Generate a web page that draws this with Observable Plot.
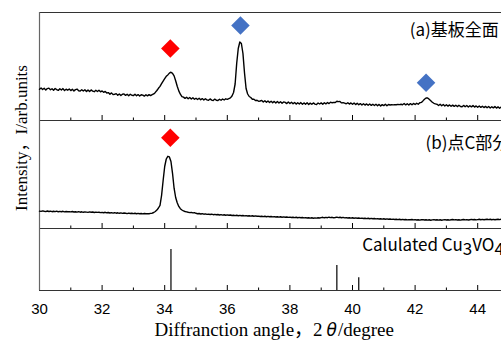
<!DOCTYPE html>
<html><head><meta charset="utf-8">
<script src="https://cdn.jsdelivr.net/npm/d3@7"></script>
<script src="https://cdn.jsdelivr.net/npm/@observablehq/plot@0.6"></script>
<style>
html,body{margin:0;padding:0;background:#fff;overflow:hidden}
#chart{position:relative;width:501px;height:343px;overflow:hidden;background:#fff}
#chart svg{position:absolute;left:0}
#ylab{position:absolute;left:21px;top:138px;transform:translate(-50%,-50%) rotate(-90deg);font-family:"Liberation Serif","Noto Sans CJK JP",serif;font-size:17px;white-space:nowrap;color:#000;line-height:1}
</style></head><body><div id="chart"><div id="ylab">Intensity，I/arb.units</div></div>
<script>
// 2θ sampling of the measured patterns
const angleStart = 30, angleStep = 0.05;
// (a) whole substrate, intensity (arb.)
const intensityA = [
31.2,32.6,31.0,32.2,30.4,31.9,32.4,30.7,31.8,30.2,32.0,30.9,30.1,31.7,30.5,31.9,29.9,31.3,30.3,31.5,
29.9,31.2,29.6,30.9,31.4,29.8,29.4,30.8,29.5,30.7,29.1,30.4,29.0,30.6,29.3,28.8,30.2,29.0,30.3,28.7,
29.6,28.2,29.1,27.5,27.9,26.3,27.6,25.9,26.2,26.9,25.2,26.6,25.0,26.3,26.6,25.1,26.2,24.8,26.3,25.2,
24.9,26.2,24.7,25.9,24.5,25.8,25.4,24.4,25.7,24.6,25.9,24.9,25.8,26.6,28.1,30.0,32.2,34.1,36.8,39.4,
41.8,44.2,45.6,47.4,48.3,47.1,44.6,39.8,34.3,29.6,26.3,23.9,23.4,22.1,23.3,21.8,23.0,21.5,22.7,21.2,
22.3,21.0,22.2,20.7,21.9,20.5,21.8,20.6,20.2,21.6,20.4,20.0,21.4,20.3,19.9,21.3,20.2,21.5,20.5,21.7,
21.2,21.9,22.6,24.5,28.0,36.5,57.0,72.0,78.5,77.0,67.0,47.5,32.0,26.5,24.0,23.0,21.3,21.3,19.9,20.3,
19.2,19.5,20.1,18.5,19.7,18.2,19.6,18.0,19.3,17.8,19.1,17.6,19.0,17.5,18.8,17.2,18.6,18.1,16.9,18.4,
17.0,18.3,16.7,18.0,16.4,17.7,16.5,17.9,16.2,17.6,16.3,17.7,16.1,17.4,16.2,17.6,16.4,16.0,17.5,16.5,
17.6,16.3,17.8,16.6,18.0,16.9,18.3,17.7,18.1,18.0,19.3,18.9,19.0,17.6,17.9,17.4,16.7,17.8,16.4,17.6,
16.2,17.4,15.9,17.2,15.7,16.9,15.5,16.8,15.4,16.6,15.2,16.5,15.1,16.3,15.0,16.2,14.8,16.1,14.6,15.9,
14.9,16.2,14.7,16.0,15.5,15.8,15.6,15.9,15.7,16.1,15.9,16.2,15.8,17.0,15.6,16.8,15.5,16.9,15.7,17.1,
16.0,17.3,16.2,17.7,18.1,19.6,21.3,22.5,22.6,21.2,19.8,18.3,17.2,16.6,16.2,15.0,16.3,14.8,16.0,14.5,
15.7,14.4,15.6,14.2,15.4,14.1,15.3,13.9,15.2,14.0,13.7,15.1,13.8,15.0,13.5,14.8,13.6,14.9,13.4,14.6,
13.2,14.5,13.1,14.3,12.9,14.1,12.8,14.0,12.5,13.8,12.6,13.9,12.4,13.6,12.3,13.5,12.2,13.3,12.1,13.2,
12.6];
// (b) point C, intensity (arb.)
const intensityB = [
17.4,17.1,17.6,17.2,16.9,17.5,17.0,17.3,16.8,17.2,16.9,17.4,16.7,17.1,16.8,17.2,16.6,17.0,16.7,16.9,
16.6,17.0,16.5,16.8,16.4,16.9,16.3,16.7,16.2,16.6,16.4,16.1,16.6,16.2,16.5,16.0,16.4,16.1,16.3,15.9,
16.1,15.8,16.2,15.7,16.0,15.5,15.9,15.4,15.8,15.3,15.7,15.2,15.6,15.1,15.5,15.2,14.9,15.4,15.0,15.3,
14.9,15.2,14.8,15.1,14.7,15.0,14.6,15.0,14.7,14.9,14.8,15.1,15.3,16.0,17.0,18.4,20.5,23.1,33.0,48.0,
62.0,69.5,72.2,71.6,67.0,55.2,40.3,31.0,25.8,22.1,19.8,18.5,17.6,17.0,16.6,16.2,15.9,16.1,15.6,15.8,
15.2,14.8,15.0,14.5,14.8,14.3,14.6,14.1,14.4,14.0,14.3,13.8,14.1,13.7,14.0,13.5,13.9,13.4,13.7,13.3,
13.6,13.2,13.5,13.0,13.3,12.9,13.2,12.8,13.1,12.7,13.0,12.6,12.9,12.5,12.8,12.4,12.7,12.3,12.6,12.2,
12.4,12.0,12.3,11.9,12.2,11.8,12.1,11.7,12.0,11.6,11.9,11.5,11.8,11.4,11.7,11.3,11.6,11.2,11.5,11.1,
11.4,11.0,11.3,10.9,11.2,10.8,11.1,10.7,11.0,10.6,10.9,10.5,10.8,10.4,10.7,10.3,10.6,10.4,10.8,10.5,
10.9,11.2,10.7,11.1,10.8,11.3,10.9,11.2,10.7,11.0,11.4,10.9,11.2,10.8,11.1,10.6,10.9,10.5,10.8,10.4,
10.7,10.3,10.6,10.2,10.5,10.1,10.4,10.0,10.3,9.9,10.2,9.8,10.1,9.7,10.0,9.6,9.9,9.5,9.8,9.4,
9.7,9.3,9.6,9.2,9.5,9.1,9.4,9.0,9.3,8.9,9.2,8.8,9.1,8.7,9.0,8.6,8.9,8.7,9.0,8.6,
8.9,8.5,8.8,8.4,8.7,8.9,8.5,8.8,8.4,8.7,8.3,8.6,8.9,8.5,8.8,8.4,8.7,8.3,8.6,8.9,
8.5,8.8,8.4,8.7,9.0,8.6,8.9,8.5,8.8,8.4,8.7,9.0,8.6,8.9,8.5,8.8,9.1,8.7,9.0,8.6,
8.9,9.2,8.8,9.1,8.7,9.0,9.3,8.9,9.2,8.8,9.1,8.7,9.0,9.3,8.9,9.2,8.8,9.1,8.9,9.2,
9.0];
// calculated Cu3VO4 reflections
const stickAngle = [34.2, 39.5, 40.2];
const stickIntensity = [100, 61, 31];
// peak markers
const markerAAngle = [34.18, 36.42, 42.35];
const markerAIntensity = [72, 95, 37.7];
const markerAPhase = ["Cu3VO4", "other", "other"];
const markerBAngle = [34.18];
const markerBIntensity = [90.7];
const markerBPhase = ["Cu3VO4"];
const phases = ["Cu3VO4", "other"];
const phaseColors = ["#FF0000", "#4472C4"];
// panel labels
const labelA = ["(a)基板全面"], labelAAngle = [41.83], labelAIntensity = [90];
const labelB = ["(b)点C部分"], labelBAngle = [42.33], labelBIntensity = [85.3];
const labelC = ["Calulated Cu3VO4"], labelCAngle = [40.31], labelCIntensity = [109.6];
// axis ticks
const majorTicks = [30, 32, 34, 36, 38, 40, 42, 44];
const minorTicks = [31, 33, 35, 37, 39, 41, 43, 45];
const xTitle = "Diffranction angle，2θ/degree";

const tableA = intensityA.map((v, i) => ({angle: +(angleStart + i * angleStep).toFixed(2), intensity: v}));
const tableB = intensityB.map((v, i) => ({angle: +(angleStart + i * angleStep).toFixed(2), intensity: v}));
const sticks = stickAngle.map((a, i) => ({angle: a, intensity: stickIntensity[i]}));
const mkA = markerAAngle.map((a, i) => ({angle: a, intensity: markerAIntensity[i], phase: markerAPhase[i]}));
const mkB = markerBAngle.map((a, i) => ({angle: a, intensity: markerBIntensity[i], phase: markerBPhase[i]}));

const W = 510, ML = 39, MR = 1.5;
const frameColor = "#333";
const cjk = "'Noto Sans CJK JP', 'Noto Sans', sans-serif";
const serif = "'Liberation Serif', 'Noto Sans CJK JP', serif";
const common = () => ({
  width: W, marginLeft: ML, marginRight: MR,
  x: {domain: [30, 45], axis: null},
  color: {domain: phases, range: phaseColors},
  style: {background: "transparent", overflow: "visible", maxWidth: "none", fontFamily: "'Liberation Sans', Arial, sans-serif"}
});
const tickMarks = (H) => [
  Plot.ruleX(majorTicks, {x: d => d, insetTop: H - 5, stroke: "#000", strokeWidth: 1}),
  Plot.ruleX(minorTicks, {x: d => d, insetTop: H - 2.5, stroke: "#000", strokeWidth: 1})
];

const plotA = Plot.plot({
  ...common(),
  height: 120, marginTop: 12, marginBottom: 0,
  y: {domain: [0, 108], axis: null},
  marks: [
    ...tickMarks(108),
    Plot.ruleY([108], {stroke: frameColor, strokeWidth: 1.2}),
    Plot.ruleY([0], {stroke: frameColor, strokeWidth: 1.2}),
    Plot.ruleX([30], {stroke: "#666", strokeWidth: 1.2}),
    Plot.line(tableA, {x: "angle", y: "intensity", stroke: "#000", strokeWidth: 1.4}),
    Plot.dot(mkA, {x: "angle", y: "intensity", fill: "phase", symbol: "square", r: 7.4, rotate: 45, stroke: "none"}),
    Plot.text(labelA, {x: labelAAngle, y: labelAIntensity, text: d => d, textAnchor: "start", fontSize: 17, fontFamily: cjk, fill: "#000"})
  ]
});
const plotB = Plot.plot({
  ...common(),
  height: 108, marginTop: 0, marginBottom: 0,
  y: {domain: [0, 108], axis: null},
  marks: [
    ...tickMarks(108),
    Plot.ruleY([0], {stroke: frameColor, strokeWidth: 1.2}),
    Plot.ruleX([30], {stroke: "#666", strokeWidth: 1.2}),
    Plot.line(tableB, {x: "angle", y: "intensity", stroke: "#000", strokeWidth: 1.4}),
    Plot.dot(mkB, {x: "angle", y: "intensity", fill: "phase", symbol: "square", r: 7.4, rotate: 45, stroke: "none"}),
    Plot.text(labelB, {x: labelBAngle, y: labelBIntensity, text: d => d, textAnchor: "start", fontSize: 17, fontFamily: cjk, fill: "#000"})
  ]
});
const plotC = Plot.plot({
  ...common(),
  height: 115, marginTop: 0, marginBottom: 53,
  y: {domain: [0, 151], axis: null},
  marks: [
    ...tickMarks(62),
    Plot.ruleY([0], {stroke: frameColor, strokeWidth: 1.2}),
    Plot.ruleX([30], {stroke: "#666", strokeWidth: 1.2}),
    Plot.ruleX(sticks, {x: "angle", y1: 0, y2: "intensity", stroke: "#000", strokeWidth: 1.2}),
    Plot.axisX(majorTicks, {tickSize: 0, tickPadding: 13, fontSize: 15, tickFormat: d => d, label: null}),
    Plot.text(labelC, {x: labelCAngle, y: labelCIntensity, text: d => d, textAnchor: "start", fontSize: 17, fontFamily: cjk, fill: "#000"}),
    Plot.text([xTitle], {frameAnchor: "bottom", dy: 45, text: d => d, fontSize: 19, fontFamily: serif, fill: "#000"})
  ]
});

const chart = document.getElementById("chart");
plotA.style.top = "0px"; plotB.style.top = "120px"; plotC.style.top = "228px";
chart.appendChild(plotA); chart.appendChild(plotB); chart.appendChild(plotC);

// subscripts and italic theta
const NS = "http://www.w3.org/2000/svg";
function tspan(txt, attrs) {
  const t = document.createElementNS(NS, "tspan");
  t.textContent = txt;
  for (const k in attrs) t.setAttribute(k, attrs[k]);
  return t;
}
plotC.querySelectorAll("text").forEach(el => {
  if (el.textContent === "Calulated Cu3VO4") {
    el.textContent = "";
    el.appendChild(tspan("Calulated Cu", {}));
    el.appendChild(tspan("3", {dy: "4"}));
    el.appendChild(tspan("VO", {dy: "-4"}));
    el.appendChild(tspan("4", {dy: "4"}));
  } else if (el.textContent === xTitle) {
    el.textContent = "";
    el.appendChild(tspan("Diffranction angle，2", {}));
    el.appendChild(tspan("θ", {"font-style": "italic", "font-family": "'DejaVu Sans', sans-serif", dx: "4", "font-size": "17"}));
    el.appendChild(tspan("/degree", {dx: "1"}));
  }
});
</script></body></html>
